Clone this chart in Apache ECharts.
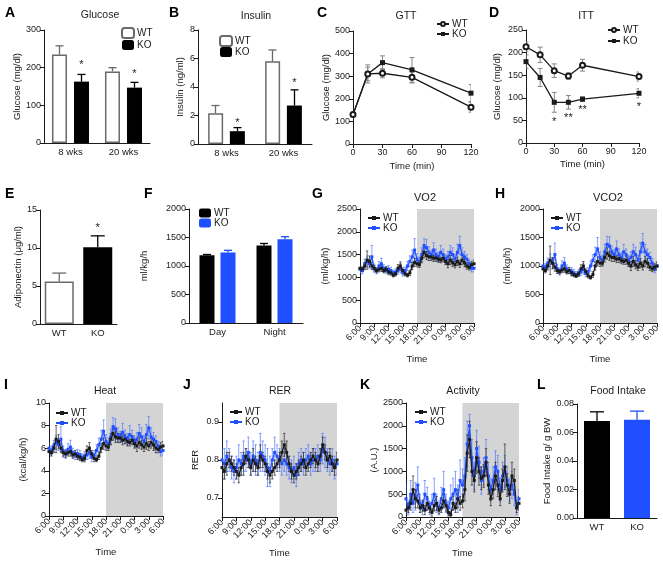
<!DOCTYPE html>
<html><head><meta charset="utf-8">
<script src="https://cdn.jsdelivr.net/npm/echarts@6/dist/echarts.min.js"></script>
<style>html,body{margin:0;padding:0;background:#fff}#c{width:663px;height:561px}</style>
</head><body><div id="c"></div>
<script>
// ---------------- DATA ----------------
const wkCats = ['8 wks', '20 wks'];
const glucoseWT = [235, 190], glucoseWTsem = [23, 10];
const glucoseKO = [163, 147], glucoseKOsem = [19, 14];
const glucoseStarY = [207, 183];
const insulinWT = [2.15, 5.8], insulinWTsem = [0.55, 0.8];
const insulinKO = [0.9, 2.7], insulinKOsem = [0.25, 1.1];
const insulinStarY = [1.47, 4.3];
const gttTime = [0, 15, 30, 60, 120];
const gttWT = [130, 310, 313, 295, 163], gttWTsem = [8, 40, 20, 25, 22];
const gttKO = [130, 310, 360, 328, 225], gttKOsem = [8, 30, 30, 55, 38];
const ittTime = [0, 15, 30, 45, 60, 120];
const ittWT = [213, 195, 160, 148, 172, 147], ittWTsem = [10, 17, 15, 7, 13, 10];
const ittKO = [180, 145, 90, 90, 97, 110], ittKOsem = [15, 20, 22, 15, 5, 10];
const ittStarTime = [30, 45, 60, 120], ittStarY = [46, 55, 73, 80], ittStarText = ['*', '**', '**', '*'];
const genoCats = ['WT', 'KO'];
const adipo = [5.6, 10.1], adipoSem = [1.1, 1.5], adipoStarY = [null, 12.6];
const dnCats = ['Day', 'Night'];
const vo2BarWT = [1190, 1360], vo2BarWTsem = [12, 35];
const vo2BarKO = [1235, 1470], vo2BarKOsem = [40, 45];
const food = [0.068, 0.069], foodSem = [0.0065, 0.006];

const timeLabels = ['6:00', '9:00', '12:00', '15:00', '18:00', '21:00', '0:00', '3:00', '6:00'];
const tHours = [0,0.5,1,1.5,2,2.5,3,3.5,4,4.5,5,5.5,6,6.5,7,7.5,8,8.5,9,9.5,10,10.5,11,11.5,12,12.5,13,13.5,14,14.5,15,15.5,16,16.5,17,17.5,18,18.5,19,19.5,20,20.5,21,21.5,22,22.5,23,23.5,24];

const vo2WT = [1200,1180,1250,1380,1350,1250,1200,1150,1180,1200,1150,1180,1120,1100,1050,1080,1200,1250,1150,1080,1050,1100,1250,1330,1300,1280,1420,1550,1480,1450,1450,1420,1430,1400,1380,1420,1350,1300,1380,1320,1280,1350,1300,1380,1320,1250,1220,1280,1300];
const vo2WTe = [60,50,80,200,120,80,60,50,60,70,50,60,60,50,40,50,80,90,60,50,40,60,80,90,70,60,100,120,90,80,80,70,80,70,60,80,70,90,100,80,70,90,80,100,90,70,60,70,80];
const vo2KO = [1180,1150,1300,1350,1300,1450,1200,1150,1250,1300,1200,1150,1180,1150,1100,1120,1150,1200,1100,1150,1250,1350,1450,1600,1400,1350,1500,1700,1650,1550,1500,1600,1500,1450,1550,1500,1400,1450,1550,1500,1400,1550,1700,1500,1450,1400,1300,1200,1200];
const vo2KOe = [80,70,100,120,100,250,90,70,100,120,80,70,80,70,60,70,80,100,70,80,100,120,150,250,120,100,150,150,180,120,100,160,120,100,150,120,100,120,150,150,100,180,200,150,120,100,90,80,80];

const vco2WT = [950,920,1000,1100,1050,980,920,900,930,950,900,920,880,850,830,860,950,1000,900,830,800,850,1000,1080,1050,1050,1150,1220,1180,1150,1150,1120,1130,1100,1080,1100,1050,1000,1080,1020,980,1050,1000,1080,1050,980,950,980,1000];
const vco2WTe = [50,40,70,250,100,70,50,40,50,60,40,50,50,40,30,40,70,80,50,40,30,50,70,80,60,50,80,100,80,70,70,60,70,60,50,70,60,80,90,70,60,80,70,90,80,60,50,60,70];
const vco2KO = [1000,980,1050,1100,1050,1200,950,900,1000,1050,950,920,900,880,850,880,900,950,870,900,1000,1100,1200,1300,1150,1100,1250,1380,1350,1250,1200,1300,1200,1150,1250,1200,1100,1150,1250,1200,1100,1250,1400,1250,1200,1150,1050,950,1000];
const vco2KOe = [70,60,90,110,90,200,80,60,90,100,70,60,70,60,50,60,70,90,60,70,90,100,130,200,100,90,130,140,160,100,90,140,100,90,130,100,90,100,130,130,90,160,170,130,100,90,80,70,70];

const heatWT = [5.7,5.6,6.0,6.8,6.6,6.0,5.6,5.5,5.6,5.7,5.4,5.5,5.3,5.2,5.0,5.1,5.8,6.0,5.5,5.1,5.0,5.3,6.0,6.4,6.2,6.1,6.8,7.3,7.0,6.9,6.9,6.7,6.8,6.6,6.5,6.7,6.4,6.2,6.5,6.3,6.1,6.4,6.2,6.5,6.3,6.0,5.9,6.1,6.2];
const heatWTe = [0.3,0.3,0.4,1.2,0.6,0.4,0.3,0.3,0.3,0.4,0.3,0.3,0.3,0.3,0.2,0.3,0.4,0.5,0.3,0.3,0.2,0.3,0.4,0.5,0.4,0.3,0.5,0.6,0.5,0.4,0.4,0.4,0.4,0.4,0.3,0.4,0.4,0.5,0.5,0.4,0.4,0.5,0.4,0.5,0.5,0.4,0.3,0.4,0.4];
const heatKO = [6.0,5.8,6.2,6.5,6.3,6.8,5.7,5.5,5.9,6.1,5.6,5.4,5.5,5.4,5.2,5.3,5.4,5.6,5.2,5.4,5.8,6.3,6.8,7.5,6.6,6.4,7.0,7.9,7.7,7.2,7.0,7.4,7.0,6.8,7.2,7.0,6.6,6.8,7.3,7.0,6.6,7.2,7.8,7.0,6.8,6.6,6.2,5.7,5.8];
const heatKOe = [0.4,0.4,0.5,0.6,0.5,1.1,0.5,0.4,0.5,0.6,0.4,0.4,0.4,0.4,0.3,0.4,0.4,0.5,0.4,0.4,0.5,0.6,0.8,1.0,0.6,0.5,0.7,0.8,0.9,0.6,0.5,0.8,0.6,0.5,0.8,0.6,0.5,0.6,0.8,0.8,0.5,0.9,1.0,0.8,0.6,0.5,0.4,0.4,0.4];

const rerWT = [0.78,0.77,0.79,0.80,0.79,0.78,0.77,0.76,0.78,0.79,0.81,0.80,0.78,0.80,0.79,0.78,0.81,0.80,0.79,0.77,0.76,0.77,0.78,0.79,0.80,0.82,0.84,0.82,0.79,0.77,0.76,0.77,0.78,0.79,0.80,0.78,0.79,0.80,0.81,0.80,0.79,0.81,0.84,0.82,0.80,0.81,0.79,0.78,0.80];
const rerWTe = [0.02,0.02,0.03,0.02,0.02,0.02,0.02,0.02,0.02,0.03,0.02,0.02,0.02,0.03,0.02,0.02,0.03,0.02,0.02,0.02,0.02,0.02,0.02,0.02,0.02,0.03,0.03,0.03,0.02,0.02,0.02,0.02,0.02,0.02,0.02,0.02,0.02,0.02,0.02,0.02,0.02,0.02,0.02,0.02,0.02,0.02,0.02,0.02,0.02];
const rerKO = [0.80,0.79,0.81,0.80,0.78,0.77,0.78,0.80,0.79,0.81,0.80,0.82,0.79,0.81,0.80,0.79,0.82,0.81,0.80,0.78,0.77,0.80,0.82,0.81,0.80,0.79,0.80,0.79,0.78,0.77,0.78,0.76,0.79,0.80,0.79,0.80,0.81,0.79,0.80,0.80,0.81,0.80,0.83,0.82,0.80,0.79,0.80,0.78,0.79];
const rerKOe = [0.03,0.04,0.04,0.03,0.03,0.03,0.03,0.04,0.03,0.04,0.03,0.04,0.03,0.04,0.04,0.03,0.05,0.04,0.04,0.05,0.04,0.03,0.04,0.03,0.03,0.03,0.03,0.03,0.03,0.03,0.03,0.03,0.03,0.03,0.03,0.03,0.03,0.03,0.03,0.03,0.03,0.03,0.04,0.04,0.03,0.03,0.03,0.03,0.03];

const actWT = [150,200,300,600,400,350,200,250,150,300,200,100,250,300,150,200,350,250,100,50,300,200,400,300,350,600,1400,1700,1000,800,1300,1000,850,900,1200,700,400,600,900,700,400,800,1100,700,500,900,800,200,300];
const actWTe = [100,100,150,300,200,150,100,120,100,150,100,80,120,150,80,100,150,120,80,60,150,100,200,150,150,250,400,400,300,250,350,300,250,250,300,200,150,200,300,250,150,250,500,250,200,300,250,100,150];
const actKO = [400,200,500,300,450,700,300,200,500,400,200,300,500,300,200,400,600,300,200,400,500,600,400,800,700,900,1600,2000,1300,900,1500,1200,800,1000,1300,900,600,800,1100,1000,600,900,1000,800,600,700,500,200,400];
const actKOe = [300,150,300,200,300,400,200,150,300,250,150,200,350,200,150,250,400,200,150,300,350,400,300,450,350,400,500,250,400,300,400,350,300,300,400,300,250,300,350,350,250,300,350,300,250,300,250,150,200];

// ---------------- STYLE / HELPERS ----------------
const F = "'Liberation Sans', Arial, Helvetica, sans-serif";
const INK = '#1a1a1a';
const BLUE = '#1f4fff';
const WTGRAY = '#6a6a6a';
const axLine = {show: true, lineStyle: {color: INK, width: 1}};
const axTick = {show: true, length: 4, lineStyle: {color: INK, width: 1}};
const lab = {fontSize: 9, color: INK, fontFamily: F, margin: 3};
const nameStyle = {fontSize: 9.5, color: INK, fontFamily: F};
const plain = v => String(v);

const grids = [
  {left: 44, top: 30, width: 106, height: 113},   // A
  {left: 198, top: 30, width: 114, height: 114},  // B
  {left: 353, top: 31, width: 118, height: 113},  // C
  {left: 526, top: 30, width: 113, height: 113},  // D
  {left: 40, top: 210, width: 77, height: 114},   // E
  {left: 189, top: 209, width: 114, height: 114}, // F
  {left: 360, top: 209, width: 114, height: 114}, // G
  {left: 543, top: 209, width: 114, height: 114}, // H
  {left: 49, top: 403, width: 114, height: 113},  // I
  {left: 222, top: 403, width: 115, height: 114}, // J
  {left: 406, top: 403, width: 113, height: 114}, // K
  {left: 577, top: 404, width: 80, height: 114}   // L
];

function xCat(gi, data) {
  return {type: 'category', gridIndex: gi, data, axisLine: axLine, axisTick: {show: false},
    axisLabel: {...lab, fontSize: 9.5, margin: 4}, splitLine: {show: false}};
}
function xVal(gi, min, max, interval, name, gap) {
  return {type: 'value', gridIndex: gi, min, max, interval, axisLine: axLine, axisTick: axTick,
    axisLabel: {...lab, margin: 4, formatter: plain}, splitLine: {show: false},
    name, nameLocation: 'middle', nameGap: gap, nameTextStyle: nameStyle};
}
function xTime(gi) {
  return {type: 'value', gridIndex: gi, min: 0, max: 24, interval: 3, axisLine: axLine, axisTick: axTick,
    axisLabel: {...lab, rotate: 45, margin: 4, formatter: v => timeLabels[Math.round(v / 3)]},
    splitLine: {show: false}, name: 'Time', nameLocation: 'middle', nameGap: 31, nameTextStyle: nameStyle};
}
function yVal(gi, min, max, interval, name, gap, extra) {
  return Object.assign({type: 'value', gridIndex: gi, min, max, interval, axisLine: axLine, axisTick: axTick,
    axisLabel: {...lab, formatter: plain}, splitLine: {show: false},
    name, nameLocation: 'middle', nameGap: gap, nameRotate: 90, nameTextStyle: nameStyle}, extra || {});
}

function bar(gi, name, data, width, gap, style) {
  return {type: 'bar', name, xAxisIndex: gi, yAxisIndex: gi, data, barWidth: width, barGap: gap,
    itemStyle: style, z: 2};
}
function barErr(gi, vals, sems, off, color, capHalf) {
  return {type: 'custom', xAxisIndex: gi, yAxisIndex: gi, silent: true, z: 3,
    data: vals.map((v, i) => [i, v, sems[i]]),
    renderItem: (p, api) => {
      const i = api.value(0), v = api.value(1), e = api.value(2);
      const b = api.coord([i, v]), t = api.coord([i, v + e]);
      const x = b[0] + off;
      const st = {stroke: color, lineWidth: 1.3};
      return {type: 'group', children: [
        {type: 'line', shape: {x1: x, y1: b[1], x2: x, y2: t[1]}, style: st},
        {type: 'line', shape: {x1: x - capHalf, y1: t[1], x2: x + capHalf, y2: t[1]}, style: st}
      ]};
    }};
}
function starSeries(gi, xs, ys, texts, off) {
  const data = [];
  xs.forEach((x, i) => { if (ys[i] != null) data.push([x, ys[i], i]); });
  return {type: 'custom', xAxisIndex: gi, yAxisIndex: gi, silent: true, z: 5, data,
    renderItem: (p, api) => {
      const c = api.coord([api.value(0), api.value(1)]);
      return {type: 'text', x: c[0] + off, y: c[1],
        style: {text: texts[api.value(2)], textAlign: 'center', textVerticalAlign: 'middle',
          fontSize: 11, fontFamily: F, fill: INK}};
    }};
}
function xyErr(gi, xs, ys, es, color, capHalf, z) {
  return {type: 'custom', xAxisIndex: gi, yAxisIndex: gi, silent: true, z, clip: true,
    data: ys.map((v, i) => [xs[i], v, es[i]]),
    renderItem: (p, api) => {
      const x = api.value(0), y = api.value(1), e = api.value(2);
      const hi = api.coord([x, y + e]), lo = api.coord([x, y - e]);
      const st = {stroke: color, lineWidth: 1};
      return {type: 'group', children: [
        {type: 'line', shape: {x1: hi[0], y1: hi[1], x2: lo[0], y2: lo[1]}, style: st},
        {type: 'line', shape: {x1: hi[0] - capHalf, y1: hi[1], x2: hi[0] + capHalf, y2: hi[1]}, style: st},
        {type: 'line', shape: {x1: lo[0] - capHalf, y1: lo[1], x2: lo[0] + capHalf, y2: lo[1]}, style: st}
      ]};
    }};
}
function pts(xs, ys) { return ys.map((v, i) => [xs[i], v]); }

function timePanel(gi, p, wt, wtE, ko, koE) {
  return [
    xyErr(gi, tHours, ko, koE, 'rgba(70,110,255,0.65)', 1.2, 3),
    xyErr(gi, tHours, wt, wtE, 'rgba(40,40,40,0.7)', 1.2, 3),
    {type: 'line', name: p + ':KO', xAxisIndex: gi, yAxisIndex: gi, data: pts(tHours, ko),
      symbol: 'rect', symbolSize: 3, lineStyle: {color: BLUE, width: 1.2}, itemStyle: {color: BLUE}, z: 4,
      markArea: {silent: true, itemStyle: {color: '#d4d4d4'}, data: [[{xAxis: 12}, {xAxis: 24}]]}},
    {type: 'line', name: p + ':WT', xAxisIndex: gi, yAxisIndex: gi, data: pts(tHours, wt),
      symbol: 'rect', symbolSize: 3, lineStyle: {color: INK, width: 1.2}, itemStyle: {color: INK}, z: 5}
  ];
}

function legend(prefix, left, top, iw, ih, gap, lh) {
  return {orient: 'vertical', left, top, padding: 0, itemGap: gap, itemWidth: iw, itemHeight: ih,
    data: [prefix + ':WT', prefix + ':KO'], formatter: n => n.split(':')[1],
    textStyle: {fontSize: 10, color: INK, fontFamily: F, lineHeight: lh, padding: [0, 0, 0, -2]}, selectedMode: false};
}
function ttl(text, x, y, fs) {
  return {text, left: x, top: y - 6, padding: 0, textAlign: 'center',
    textStyle: {fontSize: fs || 10.5, fontWeight: 'normal', color: INK, fontFamily: F}};
}
function letter(text, x, y) {
  return {text, left: x, top: y, padding: 0,
    textStyle: {fontSize: 14, fontWeight: 'bold', color: '#000', fontFamily: F}};
}

const wtWhite = {color: '#fff', borderColor: WTGRAY, borderWidth: 1.5};
const koBlack = {color: '#000'};
const koBlue = {color: BLUE};

const option = {
  animation: false,
  backgroundColor: '#fff',
  textStyle: {fontFamily: F},
  title: [
    ttl('Glucose', 100, 16), ttl('Insulin', 256, 17), ttl('GTT', 406, 17), ttl('ITT', 586, 17),
    ttl('VO2', 425, 198, 11), ttl('VCO2', 608, 198, 11),
    ttl('Heat', 105, 392), ttl('RER', 280, 392), ttl('Activity', 463, 392), ttl('Food Intake', 618, 392),
    letter('A', 5, 6), letter('B', 169, 6), letter('C', 317, 6), letter('D', 489, 6),
    letter('E', 5, 187), letter('F', 144, 187), letter('G', 312, 187), letter('H', 495, 187),
    letter('I', 4, 378), letter('J', 183, 378), letter('K', 360, 378), letter('L', 537, 378)
  ],
  legend: [
    legend('A', 121, 27, 12, 10, 1, 10),
    legend('B', 219, 35, 12, 10, 0, 10),
    legend('C', 436, 19, 12, 5, 0, 10),
    legend('D', 607, 25, 12, 5, 1, 10),
    legend('F', 199, 208, 12, 9, 0, 9),
    legend('G', 367, 213, 12, 5, 0, 10),
    legend('H', 550, 213, 12, 5, 0, 10),
    legend('I', 55, 408, 12, 5, 0, 9),
    legend('J', 229, 407, 12, 5, 0, 10),
    legend('K', 414, 407, 12, 5, 0, 10)
  ],
  grid: grids,
  xAxis: [
    xCat(0, wkCats), xCat(1, wkCats),
    xVal(2, 0, 120, 30, 'Time (min)', 17), xVal(3, 0, 120, 30, 'Time (min)', 16),
    xCat(4, genoCats), xCat(5, dnCats),
    xTime(6), xTime(7), xTime(8), xTime(9), xTime(10),
    xCat(11, genoCats)
  ],
  yAxis: [
    yVal(0, 0, 300, 100, 'Glucose (mg/dl)', 18),
    yVal(1, 0, 8, 2, 'Insulin (ng/ml)', 13),
    yVal(2, 0, 500, 100, 'Glucose (mg/dl)', 21),
    yVal(3, 0, 250, 50, 'Glucose (mg/dl)', 24),
    yVal(4, 0, 15, 5, 'Adiponectin (μg/ml)', 15),
    yVal(5, 0, 2000, 500, 'ml/kg/h', 40),
    yVal(6, 0, 2500, 500, '(ml/kg/h)', 30),
    yVal(7, 0, 2000, 500, '(ml/kg/h)', 31),
    yVal(8, 0, 10, 2, '(kcal/kg/h)', 21),
    yVal(9, 0.65, 0.95, 0.05, 'RER', 22, {
      axisTick: {...axTick, customValues: [0.7, 0.8, 0.9]},
      axisLabel: {...lab, customValues: [0.7, 0.8, 0.9], formatter: v => v.toFixed(1)}}),
    yVal(10, 0, 2500, 500, '(A.U.)', 18),
    yVal(11, 0, 0.08, 0.02, 'Food Intake g/ g BW', 21, {axisLabel: {...lab, formatter: v => v.toFixed(2)}})
  ],
  series: [
    // A
    bar(0, 'A:WT', glucoseWT, 15, '47%', wtWhite),
    bar(0, 'A:KO', glucoseKO, 15, '47%', koBlack),
    barErr(0, glucoseWT, glucoseWTsem, -11, WTGRAY, 4),
    barErr(0, glucoseKO, glucoseKOsem, 11, '#000', 4),
    starSeries(0, [0, 1], glucoseStarY, ['*', '*'], 11),
    // B
    bar(1, 'B:WT', insulinWT, 15, '45%', wtWhite),
    bar(1, 'B:KO', insulinKO, 15, '45%', koBlack),
    barErr(1, insulinWT, insulinWTsem, -11, WTGRAY, 4),
    barErr(1, insulinKO, insulinKOsem, 11, '#000', 4),
    starSeries(1, [0, 1], insulinStarY, ['*', '*'], 11),
    // C
    xyErr(2, gttTime, gttWT, gttWTsem, '#888', 2.5, 3),
    xyErr(2, gttTime, gttKO, gttKOsem, '#888', 2.5, 3),
    {type: 'line', name: 'C:KO', xAxisIndex: 2, yAxisIndex: 2, data: pts(gttTime, gttKO), symbol: 'rect', symbolSize: 5,
      lineStyle: {color: INK, width: 1.3}, itemStyle: {color: INK}, z: 4},
    {type: 'line', name: 'C:WT', xAxisIndex: 2, yAxisIndex: 2, data: pts(gttTime, gttWT), symbol: 'emptyCircle', symbolSize: 5,
      lineStyle: {color: INK, width: 1.3}, itemStyle: {color: INK, borderWidth: 1}, z: 5},
    // D
    xyErr(3, ittTime, ittWT, ittWTsem, '#888', 2.5, 3),
    xyErr(3, ittTime, ittKO, ittKOsem, '#888', 2.5, 3),
    {type: 'line', name: 'D:KO', xAxisIndex: 3, yAxisIndex: 3, data: pts(ittTime, ittKO), symbol: 'rect', symbolSize: 5,
      lineStyle: {color: INK, width: 1.3}, itemStyle: {color: INK}, z: 4},
    {type: 'line', name: 'D:WT', xAxisIndex: 3, yAxisIndex: 3, data: pts(ittTime, ittWT), symbol: 'emptyCircle', symbolSize: 5,
      lineStyle: {color: INK, width: 1.3}, itemStyle: {color: INK, borderWidth: 1}, z: 5},
    starSeries(3, ittStarTime, ittStarY, ittStarText, 0),
    // E
    {type: 'bar', name: 'E', xAxisIndex: 4, yAxisIndex: 4, barWidth: 29,
      data: [{value: adipo[0], itemStyle: wtWhite}, {value: adipo[1], itemStyle: koBlack}]},
    barErr(4, [adipo[0]], [adipoSem[0]], 0, WTGRAY, 7),
    {...barErr(4, adipo, adipoSem, 0, '#000', 7), data: [[1, adipo[1], adipoSem[1]]]},
    starSeries(4, [0, 1], adipoStarY, ['', '*'], 0),
    // F
    bar(5, 'F:WT', vo2BarWT, 15, '40%', koBlack),
    bar(5, 'F:KO', vo2BarKO, 15, '40%', koBlue),
    barErr(5, vo2BarWT, vo2BarWTsem, -10.5, '#000', 4),
    barErr(5, vo2BarKO, vo2BarKOsem, 10.5, BLUE, 4),
    // G-K
    ...timePanel(6, 'G', vo2WT, vo2WTe, vo2KO, vo2KOe),
    ...timePanel(7, 'H', vco2WT, vco2WTe, vco2KO, vco2KOe),
    ...timePanel(8, 'I', heatWT, heatWTe, heatKO, heatKOe),
    ...timePanel(9, 'J', rerWT, rerWTe, rerKO, rerKOe),
    ...timePanel(10, 'K', actWT, actWTe, actKO, actKOe),
    // L
    {type: 'bar', name: 'L', xAxisIndex: 11, yAxisIndex: 11, barWidth: 26,
      data: [{value: food[0], itemStyle: koBlack}, {value: food[1], itemStyle: koBlue}]},
    {...barErr(11, food, foodSem, 0, '#000', 7), data: [[0, food[0], foodSem[0]]]},
    {...barErr(11, food, foodSem, 0, BLUE, 7), data: [[1, food[1], foodSem[1]]]}
  ]
};

const chart = echarts.init(document.getElementById('c'), null, {renderer: 'canvas'});
chart.setOption(option);
</script>
</body></html>
